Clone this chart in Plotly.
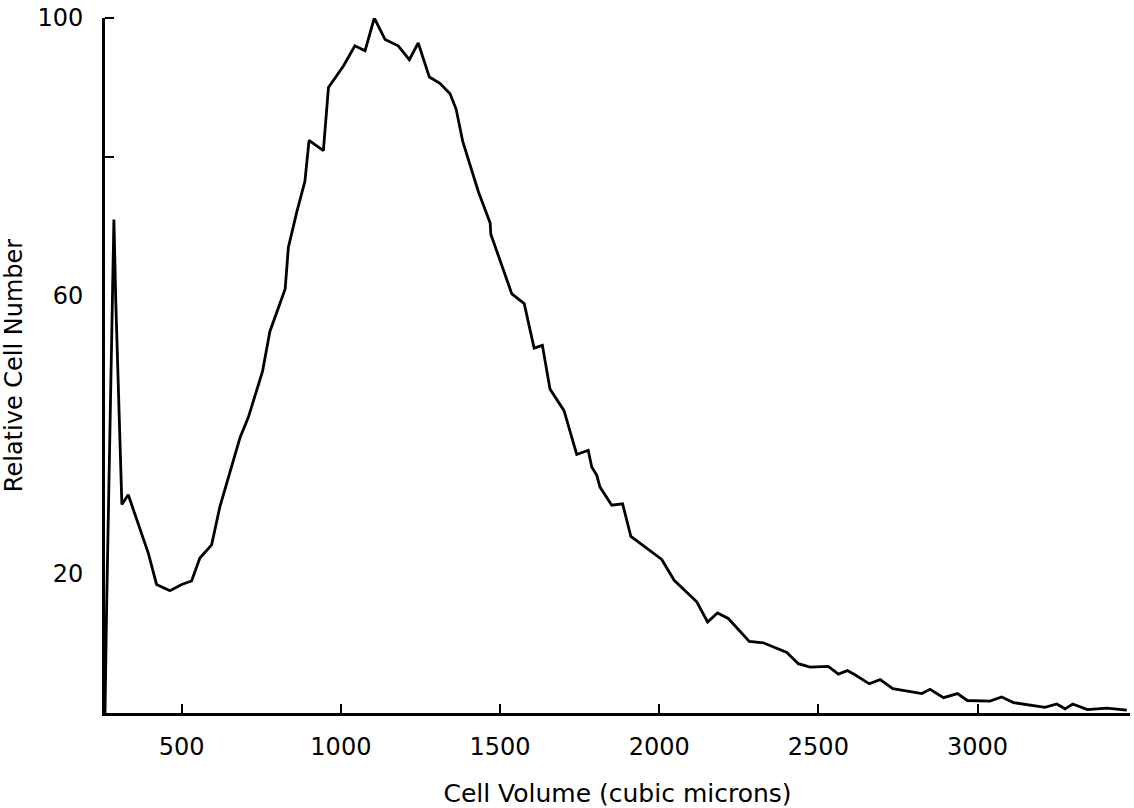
import plotly.graph_objects as go

# Cell volume (cubic microns) and relative cell number
volume = [259, 264, 287, 293, 312, 332, 395, 421, 463, 500, 531, 557, 594, 620,
          683, 709, 754, 777, 825, 835, 861, 887, 900, 945, 961, 1008, 1044, 1076,
          1105, 1139, 1180, 1215, 1243, 1278, 1311, 1343, 1362, 1383, 1432, 1469,
          1471, 1500, 1537, 1576, 1607, 1633, 1657, 1701, 1741, 1777, 1788, 1804,
          1814, 1851, 1885, 1911, 2008, 2047, 2118, 2152, 2183, 2217, 2283, 2327,
          2401, 2437, 2474, 2531, 2563, 2591, 2615, 2660, 2694, 2734, 2825, 2851,
          2893, 2937, 2968, 3039, 3076, 3113, 3212, 3249, 3275, 3299, 3345, 3406,
          3469]
count = [0, 15, 71, 59, 30, 31.4, 23.0, 18.5, 17.6, 18.5, 19.0, 22.3, 24.2, 29.7,
         39.6, 42.5, 49.2, 54.9, 61.0, 67.0, 72.0, 76.5, 82.4, 80.9, 90.0, 93.1, 96.0, 95.3,
         100, 96.9, 96.0, 94.0, 96.4, 91.5, 90.6, 89.1, 86.9, 82.2, 75.0, 70.5,
         68.9, 65.1, 60.3, 58.9, 52.5, 52.9, 46.6, 43.5, 37.2, 37.8, 35.4, 34.2,
         32.5, 29.9, 30.1, 25.4, 22.1, 19.1, 16.0, 13.1, 14.4, 13.6, 10.3, 10.1,
         8.7, 7.1, 6.6, 6.7, 5.6, 6.1, 5.5, 4.2, 4.8, 3.5, 2.8, 3.4,
         2.2, 2.8, 1.8, 1.7, 2.3, 1.5, 0.8, 1.3, 0.6, 1.3, 0.5, 0.7,
         0.4]

x_ticks = [500, 1000, 1500, 2000, 2500, 3000]
x_tick_text = ["500", "1000", "1500", "2000", "2500", "3000"]
y_ticks = [20, 60, 100]
y_tick_text = ["20", "60", "100"]
y_minor_ticks = [80, 100]

FONT = "DejaVu Sans"

fig = go.Figure()
fig.add_trace(go.Scatter(
    x=volume, y=count, mode="lines",
    line=dict(color="black", width=2.8),
    showlegend=False, hoverinfo="skip",
))

fig.update_layout(
    width=1134, height=808,
    margin=dict(l=105, r=4, t=16, b=89),
    paper_bgcolor="white", plot_bgcolor="white",
    font=dict(family=FONT, color="black", size=22),
)
fig.update_xaxes(
    range=[259, 3479], showgrid=False, zeroline=False,
    showline=True, linecolor="black", linewidth=3,
    tickmode="array", tickvals=x_ticks, ticktext=x_tick_text,
    ticks="inside", ticklen=9, tickwidth=2, tickcolor="black",
    tickfont=dict(size=24, family=FONT),
    ticklabelstandoff=10,
    title=dict(text="Cell Volume (cubic microns)", font=dict(size=25, family=FONT), standoff=26),
)
fig.update_yaxes(
    range=[0, 100], showgrid=False, zeroline=False,
    showline=True, linecolor="black", linewidth=3,
    tickmode="array", tickvals=y_ticks, ticktext=y_tick_text,
    ticks="", tickfont=dict(size=24, family=FONT),
    ticklabelstandoff=14,
    minor=dict(tickmode="array", tickvals=y_minor_ticks, ticks="inside",
               ticklen=9, tickwidth=2, tickcolor="black", showgrid=False),
    title=dict(text="Relative Cell Number", font=dict(size=24, family=FONT), standoff=10),
)

fig.write_html("out.html")
